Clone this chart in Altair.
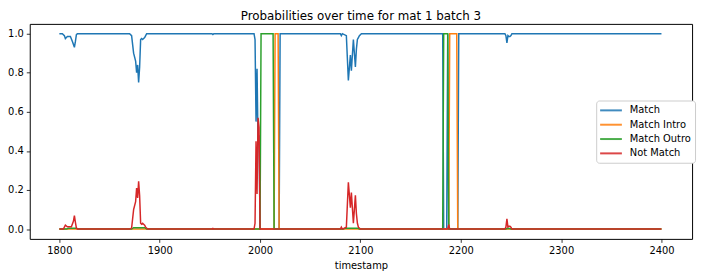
import altair as alt
import pandas as pd

# Breakpoints (timestamp, probability)
match_t = [1800, 1803, 1805, 1806, 1808, 1811, 1813, 1815, 1816, 1817, 1818,
           1870, 1872, 1874, 1876, 1877, 1878, 1879, 1880, 1881, 1882, 1883, 1884, 1885, 1886, 1887,
           1952, 1953, 1954,
           1994, 1995, 1996, 1997, 1998, 1999, 2000, 2019, 2020,
           2080, 2081, 2082, 2086, 2088, 2090, 2091, 2093, 2094, 2095, 2096, 2097, 2098, 2099, 2101,
           2182, 2183, 2186, 2187, 2188, 2197, 2198,
           2244, 2245, 2246, 2247, 2248, 2249, 2250, 2251, 2400]
match_p = [1.0, 1.0, 0.99, 0.975, 0.985, 0.985, 0.96, 0.93, 0.96, 0.995, 1.0,
           1.0, 0.99, 0.90, 0.86, 0.80, 0.84, 0.75, 0.83, 0.97, 0.975, 0.97, 0.975, 0.98, 0.99, 1.0,
           1.0, 0.996, 1.0,
           1.0, 0.97, 0.55, 0.82, 0.43, 0.48, 0.0, 0.0, 1.0,
           1.0, 0.99, 1.0, 0.99, 0.76, 0.89, 0.81, 0.97, 0.9, 0.83, 0.92, 0.97, 0.98, 0.99, 1.0,
           1.0, 0.0, 0.0, 1.0, 0.0, 0.0, 1.0,
           1.0, 0.99, 0.953, 0.99, 0.985, 0.985, 0.99, 1.0, 1.0]

intro_t = [1800, 2014, 2015, 2018, 2019, 2188, 2189, 2196, 2197, 2400]
intro_p = [0.0, 0.0, 1.0, 1.0, 0.0, 0.0, 1.0, 1.0, 0.0, 0.0]

outro_t = [1800, 1807, 1809, 1817, 1819, 1872, 1874, 1885, 1887,
           2000, 2001, 2013, 2014,
           2083, 2085, 2097, 2099,
           2182, 2183, 2187, 2188,
           2245, 2246, 2249, 2250, 2400]
outro_p = [0.0, 0.0, 0.004, 0.004, 0.0, 0.0, 0.007, 0.007, 0.0,
           0.0, 1.0, 1.0, 0.0,
           0.0, 0.005, 0.005, 0.0,
           0.0, 1.0, 1.0, 0.0,
           0.0, 0.003, 0.003, 0.0, 0.0]

notmatch_t = [1800, 1804, 1806, 1808, 1812, 1814, 1815, 1816, 1817, 1818,
              1870, 1872, 1874, 1876, 1877, 1878, 1879, 1880, 1881, 1882, 1883, 1884, 1885, 1886, 1888,
              1952, 1953, 1954,
              1994, 1995, 1996, 1997, 1998, 1999, 2000,
              2080, 2081, 2082, 2086, 2088, 2090, 2091, 2093, 2094, 2095, 2096, 2097, 2098, 2100,
              2187, 2188, 2189,
              2244, 2245, 2246, 2247, 2248, 2249, 2250, 2251, 2400]
notmatch_p = [0.0, 0.0, 0.02, 0.012, 0.012, 0.04, 0.069, 0.035, 0.005, 0.0,
              0.0, 0.005, 0.10, 0.14, 0.21, 0.16, 0.245, 0.17, 0.03, 0.025, 0.03, 0.025, 0.02, 0.01, 0.0,
              0.0, 0.004, 0.0,
              0.0, 0.03, 0.45, 0.18, 0.57, 0.52, 0.0,
              0.0, 0.01, 0.0, 0.01, 0.24, 0.11, 0.187, 0.03, 0.1, 0.173, 0.08, 0.03, 0.01, 0.0,
              0.0, 0.023, 0.0,
              0.0, 0.01, 0.052, 0.01, 0.015, 0.015, 0.01, 0.0, 0.0]

series_names = ["Match", "Match Intro", "Match Outro", "Not Match"]
series_colors = ["#1f77b4", "#ff7f0e", "#2ca02c", "#d62728"]
x_ticks = [1800, 1900, 2000, 2100, 2200, 2300, 2400]
y_ticks = [0.0, 0.2, 0.4, 0.6, 0.8, 1.0]

rows = []
for name, ts, ps in [("Match", match_t, match_p),
                     ("Match Intro", intro_t, intro_p),
                     ("Match Outro", outro_t, outro_p),
                     ("Not Match", notmatch_t, notmatch_p)]:
    for t, p in zip(ts, ps):
        rows.append({"timestamp": t, "prob": p, "series": name})
df = pd.DataFrame(rows)

FONT = "DejaVu Sans"

chart = alt.Chart(df).mark_line(strokeWidth=1.5, clip=True).encode(
    x=alt.X("timestamp:Q",
            scale=alt.Scale(domain=[1770.5, 2430.5], nice=False, zero=False),
            axis=alt.Axis(values=x_ticks, format="d", title="timestamp")),
    y=alt.Y("prob:Q",
            scale=alt.Scale(domain=[-0.05, 1.05], nice=False),
            axis=alt.Axis(values=y_ticks, format=".1f", title=None)),
    color=alt.Color("series:N",
                    scale=alt.Scale(domain=series_names, range=series_colors),
                    legend=alt.Legend(title=None, orient="none", legendX=573, legendY=77.5,
                                      symbolType="M-2.2,0L2.2,0", symbolStrokeWidth=2, symbolSize=100,
                                      symbolOffset=5,
                                      labelFontSize=10, labelFont=FONT, labelColor="#000",
                                      rowPadding=3.5, padding=4, strokeColor="#cccccc",
                                      fillColor="white", cornerRadius=3, labelOffset=13,
                                      symbolOpacity=0.85)),
    detail="series:N",
).properties(
    width=670,
    height=217.5,
    title=alt.TitleParams("Probabilities over time for mat 1 batch 3", fontSize=12, font=FONT,
                          fontWeight="normal", color="#000", offset=1),
    autosize=alt.AutoSizeParams(type="none"),
    padding={"left": 22, "top": 14.5, "right": 6, "bottom": 38},
).configure_view(
    stroke="#000", strokeWidth=1
).configure_axis(
    domain=False, grid=False, tickColor="#000", tickSize=3.5, tickWidth=0.8,
    labelFont=FONT, labelFontSize=10, labelColor="#000", labelPadding=3,
    titleFont=FONT, titleFontSize=10, titleFontWeight="normal", titleColor="#000", titlePadding=5
)

chart.save("out.html", embed_options={"renderer": "svg", "actions": False})
